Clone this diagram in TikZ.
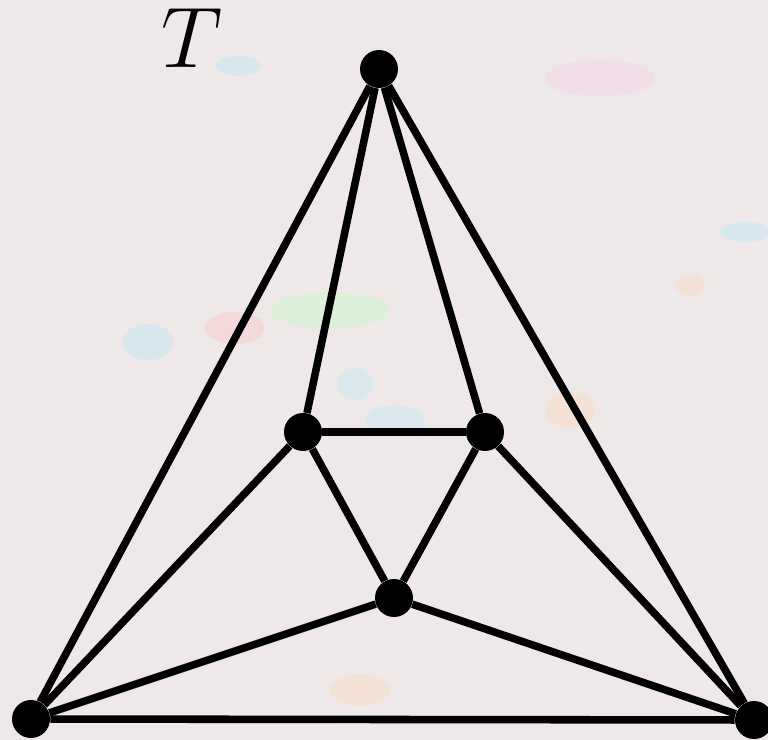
\documentclass[tikz,border=0pt]{standalone}
\usepackage{tikz}
\usetikzlibrary{positioning, calc}

\definecolor{paper}{RGB}{238,232,232}

\begin{document}
\begin{tikzpicture}[
      x=0.02cm, y=-0.02cm,
      vertex/.style={circle, fill=black, inner sep=0pt, minimum size=0.76cm},
      edge/.style={line width=4.3pt},
      blob/.style={opacity=0.35}
    ]
    
    \clip (0,0) rectangle (768,740);
    \fill[paper] (0,0) rectangle (768,740);
    
    % faint paint spots in the paper
    \fill[blob, cyan!30] (238,66) ellipse (22 and 10);
    \fill[blob, magenta!20] (600,78) ellipse (55 and 18);
    \fill[blob, green!25] (330,310) ellipse (60 and 18);
    \fill[blob, red!25] (235,328) ellipse (30 and 16);
    \fill[blob, cyan!30] (148,342) ellipse (25 and 18);
    \fill[blob, cyan!25] (355,384) ellipse (18 and 16);
    \fill[blob, cyan!25] (395,420) ellipse (30 and 15);
    \fill[blob, orange!30] (570,410) ellipse (25 and 18);
    \fill[blob, cyan!30] (745,232) ellipse (25 and 10);
    \fill[blob, orange!30] (360,690) ellipse (30 and 16);
    \fill[blob, orange!30] (690,285) ellipse (15 and 10);
    
    \node[vertex] (top) at (379,69) {};
    \node[vertex] (l) at (303,432) {};
    \node[vertex] (r) at (485,432) {};
    \node[vertex] (m) at (394,598) {};
    \node[vertex] (bl) at (31,719) {};
    \node[vertex] (br) at (754,720) {};
    \node[inner sep=0pt, scale=1.97] (name) at (192,38) {\Huge $T$};
    
    \draw[edge] (top) -- (bl);
    \draw[edge] (top) -- (br);
    \draw[edge] (top) -- (l);
    \draw[edge] (top) -- (r);
    \draw[edge] (l) -- (r);
    \draw[edge] (l) -- (m);
    \draw[edge] (r) -- (m);
    \draw[edge] (l) -- (bl);
    \draw[edge] (r) -- (br);
    \draw[edge] (m) -- (bl);
    \draw[edge] (m) -- (br);
    \draw[edge] (bl) -- (br);
  \end{tikzpicture}
\end{document}
